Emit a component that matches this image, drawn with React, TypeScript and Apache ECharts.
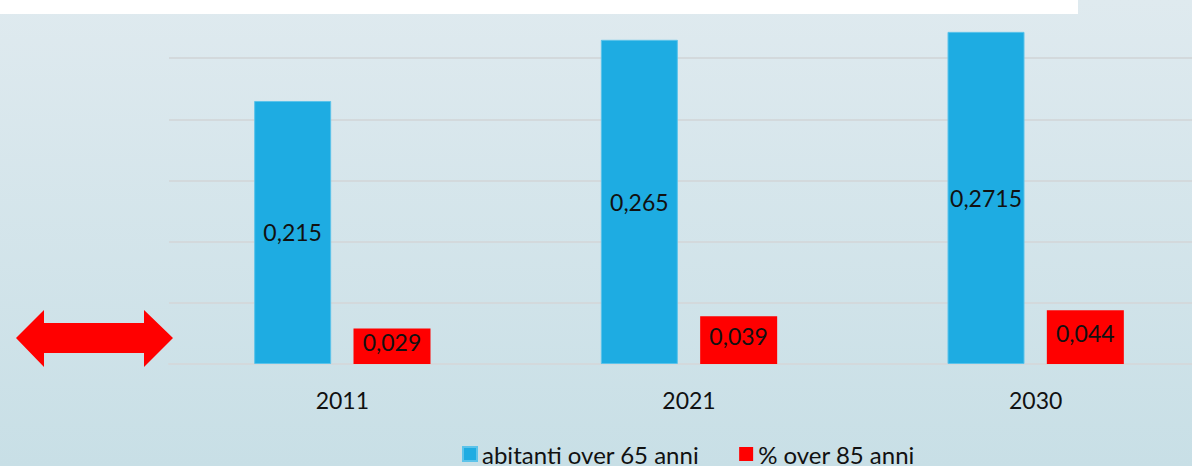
import React, { useEffect, useRef } from "react";
import * as echarts from "echarts";

const categories = ["2011", "2021", "2030"];
const over65 = [0.215, 0.265, 0.2715];
const over85 = [0.029, 0.039, 0.044];
const seriesNames = ["abitanti over 65 anni", "% over 85 anni"];

const fmt = (v: number) => String(v).replace(".", ",");
const FONT = "Lato, 'Noto Sans', sans-serif";

export default function App() {
  const ref = useRef<HTMLDivElement>(null);
  useEffect(() => {
    document.body.style.margin = "0";
    const chart = echarts.init(ref.current!, null, { renderer: "svg" });
    const label = {
      show: true,
      position: "inside" as const,
      color: "#111111",
      fontSize: 23,
      fontFamily: FONT,
      formatter: (p: any) => fmt(p.value),
    };
    chart.setOption({
      animation: false,
      backgroundColor: {
        type: "linear",
        x: 0, y: 0, x2: 0, y2: 1,
        colorStops: [
          { offset: 0, color: "#dfeaef" },
          { offset: 1, color: "#c8dfe6" },
        ],
      },
      textStyle: { fontFamily: FONT },
      grid: { left: 169, width: 1040, bottom: 102, height: 367, outerBoundsMode: "none" },
      legend: {
        left: 462,
        top: 442,
        padding: 0,
        itemWidth: 14,
        itemHeight: 14,
        itemGap: 40,
        icon: "rect",
        textStyle: { fontSize: 24, lineHeight: 24, color: "#111111", fontFamily: FONT },
        data: seriesNames,
      },
      xAxis: {
        type: "category",
        data: categories,
        axisLine: { lineStyle: { color: "#d3d9dc", width: 2 } },
        axisTick: { show: false },
        axisLabel: { fontSize: 23, color: "#111111", margin: 24, fontFamily: FONT },
      },
      yAxis: {
        type: "value",
        min: 0,
        max: 0.3,
        interval: 0.05,
        axisLabel: { show: false },
        axisLine: { show: false },
        axisTick: { show: false },
        splitLine: { lineStyle: { color: "#d3d9dc", width: 2 } },
      },
      series: [
        {
          name: seriesNames[0],
          type: "bar",
          data: over65,
          barWidth: 77,
          barGap: "29%",
          itemStyle: { color: "#1eace2", borderColor: "#5cc3ea", borderWidth: 1 },
          label,
        },
        {
          name: seriesNames[1],
          type: "bar",
          data: over85,
          barWidth: 77,
          itemStyle: { color: "#ff0000" },
          label: { ...label, offset: [0, -4] },
        },
      ],
      graphic: [
        { type: "rect", shape: { x: 0, y: 0, width: 1078, height: 14 }, style: { fill: "#ffffff" }, z: 100 },
        {
          type: "polygon",
          shape: {
            points: [
              [16, 338], [44, 310], [44, 323], [144, 323], [144, 310],
              [173, 338], [144, 367], [144, 353], [44, 353], [44, 367],
            ],
          },
          style: { fill: "#ff0000" },
          z: 100,
        },
      ],
    });
    return () => chart.dispose();
  }, []);
  return <div ref={ref} style={{ position: "absolute", left: 0, top: 0, width: 1192, height: 466 }} />;
}
